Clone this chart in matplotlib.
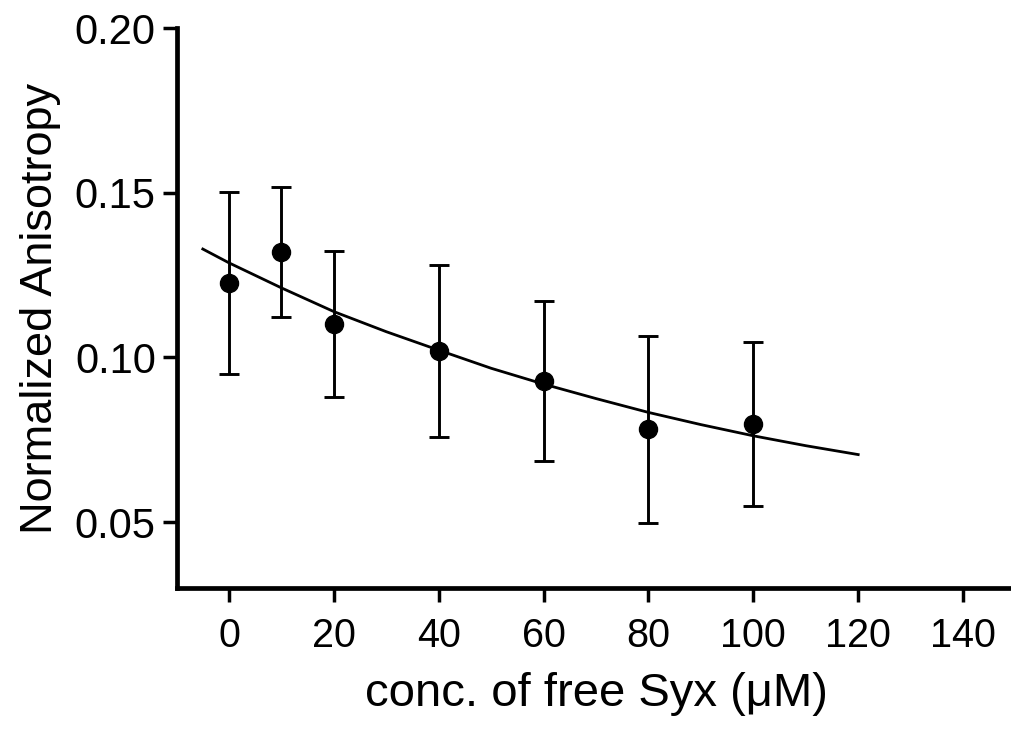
import matplotlib
matplotlib.use("Agg")
import matplotlib.pyplot as plt

plt.rcParams["font.family"] = ["Liberation Sans", "DejaVu Sans"]

# measured points (mean +/- error)
conc = [0, 10, 20, 40, 60, 80, 100]
aniso = [0.1227, 0.1319, 0.1101, 0.1019, 0.0929, 0.0782, 0.0797]
err_hi = [0.1503, 0.1518, 0.1324, 0.1280, 0.1172, 0.1065, 0.1046]
err_lo = [0.0951, 0.1123, 0.0879, 0.0757, 0.0685, 0.0496, 0.0548]

# fitted curve
fit_x = [-5, 0, 10, 20, 30, 40, 50, 60, 70, 80, 90, 100, 110, 120]
fit_y = [0.1329, 0.1287, 0.1211, 0.1139, 0.1078, 0.1022, 0.0967, 0.0919,
         0.0875, 0.0833, 0.0796, 0.0762, 0.0732, 0.0705]

x_ticks = [0, 20, 40, 60, 80, 100, 120, 140]
y_ticks = [0.05, 0.10, 0.15, 0.20]

W, H = 1012, 729
fig = plt.figure(figsize=(W / 100, H / 100), dpi=100)
ax = fig.add_axes([176.6 / W, (H - 588) / H, (1015.5 - 176.6) / W, (588 - 28) / H])

yerr = [[a - lo for a, lo in zip(aniso, err_lo)], [hi - a for a, hi in zip(aniso, err_hi)]]
ax.plot(fit_x, fit_y, color="black", lw=2.0, zorder=2)
ax.errorbar(conc, aniso, yerr=yerr, fmt="o", color="black", ms=13,
            elinewidth=2.1, capsize=7.5, capthick=2.1, zorder=3)

ax.set_xlim(-10, 150)
ax.set_ylim(0.03, 0.20)
ax.set_xticks(x_ticks)
ax.set_yticks(y_ticks)
ax.set_yticklabels([f"{v:.2f}" for v in y_ticks])

for side in ["top", "right"]:
    ax.spines[side].set_visible(False)
for side in ["left", "bottom"]:
    ax.spines[side].set_linewidth(3.4)
    ax.spines[side].set_capstyle("projecting")

ax.tick_params(axis="both", length=10, width=2.5, color="black")
ax.tick_params(axis="y", labelsize=30, pad=5)
ax.tick_params(axis="x", labelsize=28.5, pad=11)

ax.set_xlabel("conc. of free Syx (\u03bcM)", fontsize=34, labelpad=12)
ax.set_ylabel("Normalized Anisotropy", fontsize=32.5, labelpad=10)

fig.savefig("out.png", dpi=100)
